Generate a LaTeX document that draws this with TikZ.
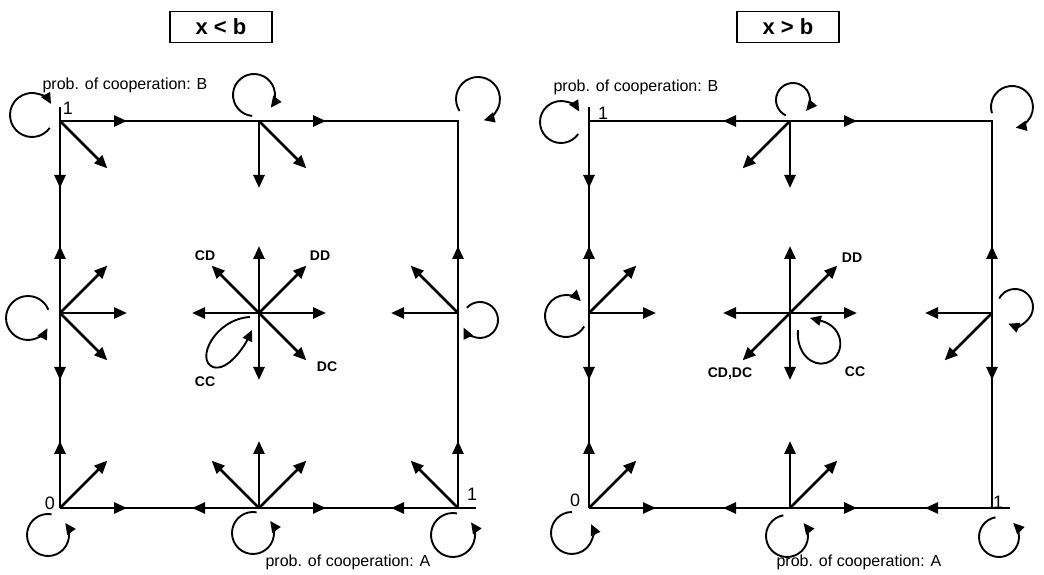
\documentclass[tikz,border=0pt]{standalone}
\usepackage{fontspec}
\setmainfont{Liberation Sans}
\usepackage{tikz}
\usetikzlibrary{arrows.meta,calc,positioning}
\newcommand{\selfloop}[5]{\draw[cyc] ($(#1)+(#2)+(#3:#5)$) arc[start angle=#3,end angle=#4,radius=#5];}

\begin{document}
\begin{tikzpicture}[x=1pt,y=1pt,
  ax/.style={line width=1.4pt},
  vec/.style={-{Triangle[length=13pt,width=11pt]},line width=2.6pt},
  cyc/.style={-{Triangle[length=11pt,width=10pt]},line width=1.9pt},
  lab/.style={font=\fontsize{14}{14}\selectfont\bfseries,inner sep=1pt},
  num/.style={font=\fontsize{18}{18}\selectfont,inner sep=0pt},
  axlab/.style={font=\fontsize{16}{16}\selectfont,inner sep=0pt},
  ttl/.style={draw,line width=1.5pt,font=\fontsize{22}{22}\selectfont\bfseries,minimum width=102pt,minimum height=31pt}
]
\useasboundingbox (0,0) rectangle (1044,575);

% left panel
\coordinate (lBL) at (60,67);  \coordinate (lBM) at (259,67);  \coordinate (lBR) at (458,67);
\coordinate (lML) at (60,262); \coordinate (lC) at (259,262);  \coordinate (lMR) at (458,262);
\coordinate (lTL) at (60,454); \coordinate (lTM) at (259,454); \coordinate (lTR) at (458,454);

\node[ttl] (ttlL) at (221,548) {x < b};
\draw[ax] (lBL) -- ($(lTL)+(0,14)$);
\draw[ax] (lBL) -- ($(lBR)+(18,0)$);
\draw[ax] (lTL) -- (lTR) -- (lBR);

\foreach \a in {0,-90,-45} \draw[vec] (lTL) -- ++(\a:67);
\foreach \a in {0,-90,-45} \draw[vec] (lTM) -- ++(\a:67);
\foreach \a in {90,-90,0,45,-45} \draw[vec] (lML) -- ++(\a:67);
\foreach \a in {0,45,90,135,180,-90,-45} \draw[vec] (lC) -- ++(\a:67);
\foreach \a in {90,180,135} \draw[vec] (lMR) -- ++(\a:67);
\foreach \a in {90,0,45} \draw[vec] (lBL) -- ++(\a:67);
\foreach \a in {90,180,0,45,135} \draw[vec] (lBM) -- ++(\a:67);
\foreach \a in {90,180,135} \draw[vec] (lBR) -- ++(\a:67);

\selfloop{lTL}{-28,6}{-36}{-330}{22}
\selfloop{lTM}{-5,26}{-95}{-397}{21}
\selfloop{lTR}{20,22}{213}{-75}{22}
\selfloop{lML}{-32,-5}{22}{332}{22}
\selfloop{lMR}{22,-7}{137}{-155}{18}
\selfloop{lBL}{-12,-27}{80}{395}{21}
\selfloop{lBM}{-6,-25}{80}{395}{21}
\selfloop{lBR}{-5,-27}{80}{395}{22}
\draw[cyc,shift={(lC)}] (-9,-4) .. controls (-44,-6) and (-64,-47) .. (-46,-54)
  .. controls (-31,-59) and (-14,-32) .. (-7,-17);

\node[lab] (cdL) at (205,319) {CD};
\node[lab] (ddL) at (320,319) {DD};
\node[lab] (dcL) at (327,208) {DC};
\node[lab] (ccL) at (205,193) {CC};
\node[num] (oneBL) at (68,467) {1};
\node[num] (zeroL) at (50,72) {0};
\node[num] (oneAL) at (472,81) {1};
\node[axlab] (probBL) at (125,490) {prob. of cooperation: B};
\node[axlab] (probAL) at (348,13) {prob. of cooperation: A};

% right panel
\coordinate (rBL) at (589,67);  \coordinate (rBM) at (790,67);  \coordinate (rBR) at (992,67);
\coordinate (rML) at (589,262); \coordinate (rC) at (790,262);  \coordinate (rMR) at (992,262);
\coordinate (rTL) at (589,454); \coordinate (rTM) at (790,454); \coordinate (rTR) at (992,454);

\node[ttl] (ttlR) at (788,548) {x > b};
\draw[ax] (rBL) -- ($(rTL)+(0,14)$);
\draw[ax] (rBL) -- ($(rBR)+(18,0)$);
\draw[ax] (rTL) -- (rTR) -- (rBR);

\foreach \a in {-90} \draw[vec] (rTL) -- ++(\a:67);
\foreach \a in {180,0,-90,-135} \draw[vec] (rTM) -- ++(\a:67);
\foreach \a in {90,-90,0,45} \draw[vec] (rML) -- ++(\a:67);
\foreach \a in {90,-90,180,0,45,-135} \draw[vec] (rC) -- ++(\a:67);
\foreach \a in {90,-90,180,-135} \draw[vec] (rMR) -- ++(\a:67);
\foreach \a in {90,0,45} \draw[vec] (rBL) -- ++(\a:67);
\foreach \a in {90,45,180,0} \draw[vec] (rBM) -- ++(\a:67);
\foreach \a in {180} \draw[vec] (rBR) -- ++(\a:67);

\selfloop{rTL}{-28,-1}{-35}{-330}{21}
\selfloop{rTM}{3,21}{245}{-40}{17}
\selfloop{rTR}{20,14}{197}{-80}{21}
\selfloop{rML}{-23,-3}{-30}{-315}{21}
\selfloop{rMR}{23,6}{152}{-112}{18}
\selfloop{rBL}{-17,-25}{90}{385}{21}
\selfloop{rBM}{-3,-28}{100}{398}{21}
\selfloop{rBR}{7,-29}{100}{405}{20}
\draw[cyc,shift={(rC)}] (8,-17) .. controls (6,-40) and (22,-54) .. (36,-50)
  .. controls (56,-44) and (56,-14) .. (20,-5);

\node[lab] (ddR) at (852,317) {DD};
\node[lab] (cddcR) at (730,201) {CD,DC};
\node[lab] (ccR) at (855,203) {CC};
\node[num] (oneBR) at (603,462) {1};
\node[num] (zeroR) at (575,75) {0};
\node[num] (oneAR) at (998,73) {1};
\node[axlab] (probBR) at (636,488) {prob. of cooperation: B};
\node[axlab] (probAR) at (859,13) {prob. of cooperation: A};
\end{tikzpicture}
\end{document}
